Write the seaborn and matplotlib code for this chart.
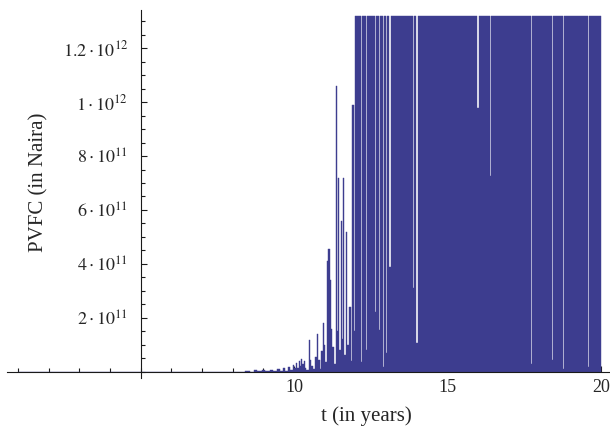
import numpy as np
import pandas as pd
import matplotlib
matplotlib.use("Agg")
import matplotlib.pyplot as plt
import seaborn as sns
from matplotlib.ticker import MultipleLocator

# ---- data (step values, each holds until next t) ----
t_years = [1.00, 8.40, 8.55, 8.70, 8.80, 8.95, 9.05, 9.20, 9.30, 9.45,
           9.55, 9.65, 9.72, 9.80, 9.87, 9.95, 10.00, 10.05, 10.10, 10.15,
           10.19, 10.23, 10.27, 10.31, 10.35, 10.40, 10.48, 10.52, 10.56, 10.62,
           10.68, 10.74, 10.79, 10.84, 10.88, 10.93, 10.98, 11.02, 11.06, 11.11,
           11.16, 11.20, 11.25, 11.30, 11.36, 11.40, 11.44, 11.48, 11.52, 11.56,
           11.59, 11.63, 11.69, 11.74, 11.80, 11.85, 11.90, 11.94, 11.98, 12.17,
           12.21, 12.33, 12.37, 12.64, 12.68, 12.77, 12.81, 12.90, 12.94, 13.00,
           13.04, 13.11, 13.15, 13.88, 13.92, 13.99, 14.03, 15.98, 16.02, 16.38,
           16.42, 17.71, 17.75, 18.41, 18.45, 18.77, 18.81, 19.58, 19.62, 20.00]
pvfc_e11 = [0.00, 0.03, 0.00, 0.05, 0.01, 0.06, 0.02, 0.07, 0.02, 0.09,
            0.03, 0.12, 0.04, 0.18, 0.06, 0.26, 0.12, 0.32, 0.15, 0.38,
            0.22, 0.47, 0.30, 0.40, 0.15, 0.06, 1.18, 0.45, 0.20, 0.10,
            0.55, 1.40, 0.45, 0.10, 0.75, 1.80, 1.00, 0.35, 4.10, 4.55,
            3.40, 1.60, 0.90, 0.30, 10.6, 1.50, 7.20, 0.80, 5.60, 1.20,
            7.20, 0.60, 5.20, 1.00, 2.40, 0.40, 9.90, 1.50, 13.2, 0.36,
            13.2, 0.80, 13.2, 2.20, 13.2, 1.55, 13.2, 0.17, 13.2, 0.70,
            13.2, 3.90, 13.2, 3.10, 13.2, 1.07, 13.2, 9.80, 13.2, 7.26,
            13.2, 0.30, 13.2, 0.43, 13.2, 0.10, 13.2, 0.17, 13.2, 0.00]

x_major = [10, 15, 20]
y_major_e11 = [2, 4, 6, 8, 10, 12]
y_tick_labels = [r"$2\cdot10^{11}$", r"$4\cdot10^{11}$", r"$6\cdot10^{11}$",
                 r"$8\cdot10^{11}$", r"$1\cdot10^{12}$", r"$1.2\cdot10^{12}$"]
x_label = "t (in years)"
y_label = "PVFC (in Naira)"

FILL = "#3d3d8f"
AXC = "#1a1a1a"

sns.set_style("white")
plt.rcParams["font.family"] = ["Liberation Serif", "DejaVu Serif"]
plt.rcParams["mathtext.fontset"] = "stix"

fig = plt.figure(figsize=(6.1, 4.26), dpi=100)
ax = fig.add_axes([7 / 610, (426 - 378.4) / 426, 603 / 610, 368.4 / 426])

df = pd.DataFrame({"t": t_years, "v": np.array(pvfc_e11) * 1e11})
ax.fill_between(df["t"], 0, df["v"], step="post", color=FILL, lw=0)
sns.lineplot(data=df, x="t", y="v", drawstyle="steps-post", color=FILL,
             lw=0.3, estimator=None, ax=ax)

ax.set_xlim(0.641, 20.30)
ax.set_ylim(-0.25e11, 13.42e11)

for s in ["top", "right"]:
    ax.spines[s].set_visible(False)
ax.spines["left"].set_position(("data", 5))
ax.spines["bottom"].set_position(("data", 0))
for s in ["left", "bottom"]:
    ax.spines[s].set_color(AXC)
    ax.spines[s].set_linewidth(0.8)

ax.set_xticks(x_major, [str(v) for v in x_major])
ax.xaxis.set_minor_locator(MultipleLocator(1))
ax.set_yticks([v * 1e11 for v in y_major_e11], y_tick_labels)
ax.yaxis.set_minor_locator(MultipleLocator(0.5e11))

ax.tick_params(axis="both", which="both", direction="in", color=AXC, width=0.8,
               bottom=True, left=True, top=False, right=False)
ax.tick_params(axis="both", which="major", length=4.5)
ax.tick_params(axis="both", which="minor", length=3)
ax.tick_params(axis="x", which="major", labelsize=13, pad=5)
ax.tick_params(axis="y", which="major", labelsize=13, pad=9)

ax.set_xlabel(x_label, fontsize=15)
ax.set_ylabel(y_label, fontsize=15)
ax.xaxis.label.set_va("center")
ax.yaxis.label.set_va("center")
ax.xaxis.set_label_coords((366 - 7) / 603, (378.4 - 416) / 368.4)
ax.yaxis.set_label_coords((39 - 7) / 603, (378.4 - 182) / 368.4)

fig.savefig("out.png", dpi=100)
